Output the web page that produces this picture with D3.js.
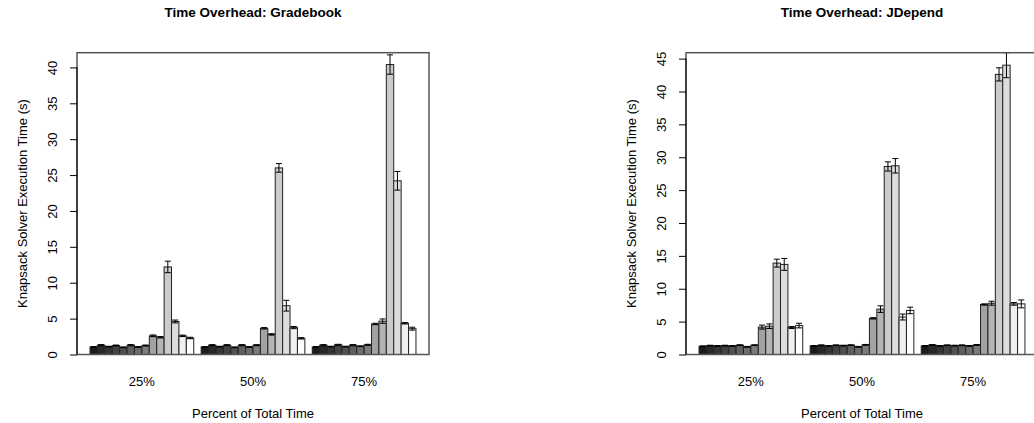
<!DOCTYPE html>
<html>
<head>
<meta charset="utf-8">
<script src="https://cdn.jsdelivr.net/npm/d3@7"></script>
<style>
  body { margin: 0; background: #fff; }
  text { font-family: "Liberation Sans", Arial, Helvetica, sans-serif; fill: #000; }
</style>
</head>
<body>
<svg id="chart" width="1034" height="423"></svg>
<script>
// Groups along the x axis
const groupLabels = ["25%", "50%", "75%"];

// One fill per solver configuration (14 bars in every group), dark to white
const barFills = ["#1c1c1c", "#282828", "#353535", "#424242", "#505050", "#5f5f5f", "#6e6e6e",
                  "#7c7c7c", "#a2a2a2", "#b4b4b4", "#cbcbcb", "#dddddd", "#f0f0f0", "#ffffff"];

// Gradebook: mean execution time (s) and error half-width per configuration
const gradebook25 = [1.05, 1.3, 1.1, 1.25, 1.0, 1.3, 1.05, 1.25, 2.6, 2.4, 12.2, 4.6, 2.6, 2.3];
const gradebook25Err = [0.05, 0.08, 0.05, 0.07, 0.05, 0.08, 0.05, 0.07, 0.12, 0.1, 0.8, 0.2, 0.1, 0.1];
const gradebook50 = [1.05, 1.3, 1.1, 1.3, 1.0, 1.3, 1.05, 1.3, 3.65, 2.8, 26.0, 6.8, 3.75, 2.25];
const gradebook50Err = [0.05, 0.08, 0.05, 0.07, 0.05, 0.08, 0.05, 0.07, 0.1, 0.1, 0.6, 0.75, 0.15, 0.1];
const gradebook75 = [1.05, 1.3, 1.1, 1.35, 1.1, 1.3, 1.15, 1.35, 4.25, 4.65, 40.4, 24.2, 4.35, 3.6];
const gradebook75Err = [0.05, 0.08, 0.05, 0.07, 0.05, 0.08, 0.05, 0.07, 0.1, 0.3, 1.35, 1.3, 0.1, 0.2];

// JDepend: mean execution time (s) and error half-width per configuration
const jdepend25 = [1.25, 1.35, 1.3, 1.35, 1.3, 1.42, 1.17, 1.42, 4.17, 4.3, 13.9, 13.7, 4.1, 4.4];
const jdepend25Err = [0.06, 0.06, 0.06, 0.06, 0.06, 0.06, 0.06, 0.06, 0.3, 0.35, 0.6, 0.9, 0.15, 0.35];
const jdepend50 = [1.3, 1.4, 1.3, 1.4, 1.35, 1.42, 1.17, 1.47, 5.5, 6.9, 28.6, 28.7, 5.7, 6.7];
const jdepend50Err = [0.06, 0.06, 0.06, 0.06, 0.06, 0.06, 0.06, 0.06, 0.1, 0.5, 0.7, 1.1, 0.45, 0.5];
const jdepend75 = [1.3, 1.45, 1.3, 1.4, 1.35, 1.4, 1.3, 1.45, 7.6, 7.8, 42.6, 44.0, 7.7, 7.7];
const jdepend75Err = [0.06, 0.06, 0.06, 0.06, 0.06, 0.06, 0.06, 0.06, 0.1, 0.3, 1.0, 1.9, 0.2, 0.6];

// y tick values
const gradebookTicks = [0, 5, 10, 15, 20, 25, 30, 35, 40];
const jdependTicks = [0, 5, 10, 15, 20, 25, 30, 35, 40, 45];

const svg = d3.select("#chart");

function drawPanel(p) {
  const nBars = barFills.length;
  const perGroup = nBars + 1;                 // one unit of space before each group
  const lo = 1, hi = perGroup * groupLabels.length;
  const pad = 0.04 * (hi - lo);
  const x = d3.scaleLinear().domain([lo - pad, hi + pad]).range([p.left, p.right]);
  const y = d3.scaleLinear().domain([0, p.yMax]).range([p.bottom, p.top]);

  const g = svg.append("g");

  const rows = [];
  p.series.forEach((vals, gi) => {
    vals.forEach((v, i) => {
      const start = gi * perGroup + 1 + i;
      rows.push({ start, v, e: p.errors[gi][i], fill: barFills[i] });
    });
  });

  // bars
  g.selectAll("rect.bar").data(rows).enter().append("rect")
    .attr("class", "bar")
    .attr("x", d => x(d.start))
    .attr("width", d => x(d.start + 1) - x(d.start))
    .attr("y", d => y(d.v))
    .attr("height", d => y(0) - y(d.v))
    .attr("fill", d => d.fill)
    .attr("stroke", "#222")
    .attr("stroke-width", 1);

  // error bars with caps
  const cap = 3;
  const eb = g.selectAll("g.err").data(rows).enter().append("g").attr("class", "err")
    .attr("stroke", "#000").attr("stroke-width", 1);
  eb.append("line")
    .attr("x1", d => x(d.start + 0.5)).attr("x2", d => x(d.start + 0.5))
    .attr("y1", d => y(d.v - d.e)).attr("y2", d => y(d.v + d.e));
  eb.append("line")
    .attr("x1", d => x(d.start + 0.5) - cap).attr("x2", d => x(d.start + 0.5) + cap)
    .attr("y1", d => y(d.v + d.e)).attr("y2", d => y(d.v + d.e));
  eb.append("line")
    .attr("x1", d => x(d.start + 0.5) - cap).attr("x2", d => x(d.start + 0.5) + cap)
    .attr("y1", d => y(d.v - d.e)).attr("y2", d => y(d.v - d.e));

  // plot box
  g.append("rect")
    .attr("x", p.left).attr("y", p.top)
    .attr("width", p.right - p.left).attr("height", p.bottom - p.top)
    .attr("fill", "none").attr("stroke", "#555").attr("stroke-width", 1.5);

  // y axis with rotated labels
  const yAxis = d3.axisLeft(y).tickValues(p.ticks).tickSize(7).tickSizeOuter(0).tickFormat(d3.format("d"));
  const ax = g.append("g").attr("transform", `translate(${p.left},0)`).call(yAxis);
  ax.select(".domain").remove();
  ax.append("line")
    .attr("x1", 0).attr("x2", 0)
    .attr("y1", y(p.ticks[0])).attr("y2", y(p.ticks[p.ticks.length - 1]))
    .attr("stroke", "#000");
  ax.selectAll(".tick line").attr("stroke", "#000");
  ax.selectAll(".tick text")
    .attr("x", 0).attr("dy", null)
    .attr("transform", "translate(-25,0) rotate(-90)")
    .attr("text-anchor", "middle")
    .attr("dominant-baseline", "central")
    .style("font-size", "13px")
    .style("font-family", '"Liberation Sans", Arial, sans-serif')
    .attr("fill", "#000");

  // group labels
  g.selectAll("text.grp").data(groupLabels).enter().append("text")
    .attr("class", "grp")
    .attr("x", (d, gi) => x(gi * perGroup + 1 + nBars / 2))
    .attr("y", 386)
    .attr("text-anchor", "middle")
    .style("font-size", "13px")
    .text(d => d);

  const cx = (p.left + p.right) / 2;
  // title
  g.append("text")
    .attr("x", cx).attr("y", 17)
    .attr("text-anchor", "middle")
    .style("font-size", "13.5px").style("font-weight", "bold")
    .text(p.title);
  // x axis title
  g.append("text")
    .attr("x", cx).attr("y", 418)
    .attr("text-anchor", "middle")
    .style("font-size", "13px")
    .text("Percent of Total Time");
  // y axis title
  g.append("text")
    .attr("transform", `translate(${p.left - 55},${(p.top + p.bottom) / 2}) rotate(-90)`)
    .attr("text-anchor", "middle")
    .attr("dominant-baseline", "central")
    .style("font-size", "13px")
    .text("Knapsack Solver Execution Time (s)");
}

drawPanel({
  title: "Time Overhead: Gradebook",
  left: 77, right: 429, top: 52.7, bottom: 354.5,
  yMax: 42.05,
  ticks: gradebookTicks,
  series: [gradebook25, gradebook50, gradebook75],
  errors: [gradebook25Err, gradebook50Err, gradebook75Err]
});

drawPanel({
  title: "Time Overhead: JDepend",
  left: 686, right: 1038, top: 52.7, bottom: 354.5,
  yMax: 45.9,
  ticks: jdependTicks,
  series: [jdepend25, jdepend50, jdepend75],
  errors: [jdepend25Err, jdepend50Err, jdepend75Err]
});
</script>
</body>
</html>
